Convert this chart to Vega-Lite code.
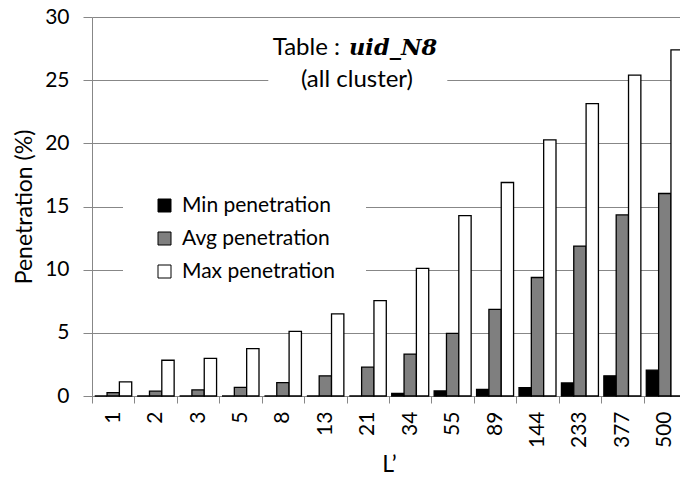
{
  "$schema": "https://vega.github.io/schema/vega-lite/v6.json",
  "autosize": {"type": "none"},
  "width": 588,
  "height": 379,
  "padding": {"left": 92, "top": 17, "right": 0, "bottom": 87},
  "background": "white",
  "config": {"view": {"stroke": null}, "font": "Lato"},
  "layer": [
    {
      "data": {
        "values": [
          {"L": "1", "Min penetration": 0, "Avg penetration": 0.26, "Max penetration": 1.12},
          {"L": "2", "Min penetration": 0, "Avg penetration": 0.38, "Max penetration": 2.83},
          {"L": "3", "Min penetration": 0, "Avg penetration": 0.48, "Max penetration": 2.98},
          {"L": "5", "Min penetration": 0, "Avg penetration": 0.69, "Max penetration": 3.75},
          {"L": "8", "Min penetration": 0, "Avg penetration": 1.06, "Max penetration": 5.12},
          {"L": "13", "Min penetration": 0, "Avg penetration": 1.6, "Max penetration": 6.5},
          {"L": "21", "Min penetration": 0, "Avg penetration": 2.28, "Max penetration": 7.55},
          {"L": "34", "Min penetration": 0.2, "Avg penetration": 3.32, "Max penetration": 10.1},
          {"L": "55", "Min penetration": 0.4, "Avg penetration": 4.96, "Max penetration": 14.28},
          {"L": "89", "Min penetration": 0.53, "Avg penetration": 6.86, "Max penetration": 16.9},
          {"L": "144", "Min penetration": 0.66, "Avg penetration": 9.38, "Max penetration": 20.28},
          {"L": "233", "Min penetration": 1.03, "Avg penetration": 11.87, "Max penetration": 23.14},
          {"L": "377", "Min penetration": 1.6, "Avg penetration": 14.33, "Max penetration": 25.4},
          {"L": "500", "Min penetration": 2.05, "Avg penetration": 16.03, "Max penetration": 27.39}
        ]
      },
      "transform": [
        {"fold": ["Min penetration", "Avg penetration", "Max penetration"], "as": ["series", "value"]}
      ],
      "mark": {"type": "bar", "stroke": "#000000", "strokeWidth": 1.3},
      "encoding": {
        "x": {
          "field": "L",
          "type": "ordinal",
          "sort": ["1", "2", "3", "5", "8", "13", "21", "34", "55", "89", "144", "233", "377", "500"],
          "scale": {"range": [0, 594], "paddingInner": 0, "paddingOuter": 0},
          "axis": {
            "title": "L’",
            "titleFont": "Lato",
            "titleFontSize": 23,
            "titleFontWeight": "normal",
            "titleColor": "#000000",
            "titlePadding": 6,
            "labelAngle": -90,
            "labelFont": "Lato",
            "labelFontSize": 21,
            "labelColor": "#000000",
            "labelPadding": 8,
            "tickBand": "extent",
            "tickSize": 7,
            "tickColor": "#878787",
            "domainColor": "#878787",
            "grid": false
          }
        },
        "xOffset": {
          "field": "series",
          "type": "nominal",
          "sort": ["Min penetration", "Avg penetration", "Max penetration"],
          "scale": {"paddingInner": 0, "paddingOuter": 0.22}
        },
        "y": {
          "field": "value",
          "type": "quantitative",
          "scale": {"domain": [0, 30], "nice": false},
          "axis": {
            "title": "Penetration (%)",
            "titleFont": "Lato",
            "titleFontSize": 23,
            "titleFontWeight": "normal",
            "titleColor": "#000000",
            "titlePadding": 8,
            "values": [0, 5, 10, 15, 20, 25, 30],
            "labelFont": "Lato",
            "labelFontSize": 21,
            "labelColor": "#000000",
            "labelPadding": 14,
            "tickSize": 9,
            "tickColor": "#878787",
            "domainColor": "#878787",
            "grid": true,
            "gridColor": "#878787"
          }
        },
        "color": {
          "field": "series",
          "type": "nominal",
          "sort": ["Min penetration", "Avg penetration", "Max penetration"],
          "scale": {
            "domain": ["Min penetration", "Avg penetration", "Max penetration"],
            "range": ["#000000", "#7f7f7f", "#ffffff"]
          },
          "legend": {
            "orient": "none",
            "legendX": 31,
            "legendY": 147,
            "title": null,
            "symbolType": "square",
            "symbolSize": 169,
            "symbolStrokeColor": "#000000",
            "symbolStrokeWidth": 1,
            "labelFont": "Lato",
            "labelFontSize": 21,
            "labelColor": "#000000",
            "labelOffset": 7,
            "labelLimit": 300,
            "rowPadding": 11,
            "padding": 31,
            "fillColor": "white"
          }
        }
      }
    },
    {
      "data": {"values": [{"box": "title"}]},
      "mark": {"type": "rect", "fill": "white"},
      "encoding": {
        "x": {"datum": 4.155, "type": "quantitative", "scale": {"domain": [0, 14], "range": [0, 594]}, "axis": null},
        "x2": {"datum": 8.374},
        "y": {"datum": 28.97, "type": "quantitative"},
        "y2": {"datum": 23.43}
      }
    },
    {
      "data": {"values": [{"label": "Table :"}]},
      "mark": {"type": "text", "align": "right", "baseline": "alphabetic", "font": "Lato", "fontSize": 24, "color": "#000000"},
      "encoding": {
        "text": {"field": "label"},
        "x": {"datum": 5.845, "type": "quantitative", "scale": {"domain": [0, 14], "range": [0, 594]}, "axis": null},
        "y": {"datum": 26.99, "type": "quantitative"}
      }
    },
    {
      "data": {"values": [{"label": "uid_N8"}]},
      "mark": {"type": "text", "align": "left", "baseline": "alphabetic", "font": "DejaVu Serif", "fontStyle": "italic", "fontWeight": "bold", "fontSize": 22.5, "color": "#000000"},
      "encoding": {
        "text": {"field": "label"},
        "x": {"datum": 6.057, "type": "quantitative", "scale": {"domain": [0, 14], "range": [0, 594]}, "axis": null},
        "y": {"datum": 26.99, "type": "quantitative"}
      }
    },
    {
      "data": {"values": [{"label": "(all cluster)"}]},
      "mark": {"type": "text", "align": "center", "baseline": "alphabetic", "font": "Lato", "fontSize": 24, "color": "#000000"},
      "encoding": {
        "text": {"field": "label"},
        "x": {"datum": 6.245, "type": "quantitative", "scale": {"domain": [0, 14], "range": [0, 594]}, "axis": null},
        "y": {"datum": 24.48, "type": "quantitative"}
      }
    }
  ],
  "resolve": {"scale": {"x": "independent"}}
}
